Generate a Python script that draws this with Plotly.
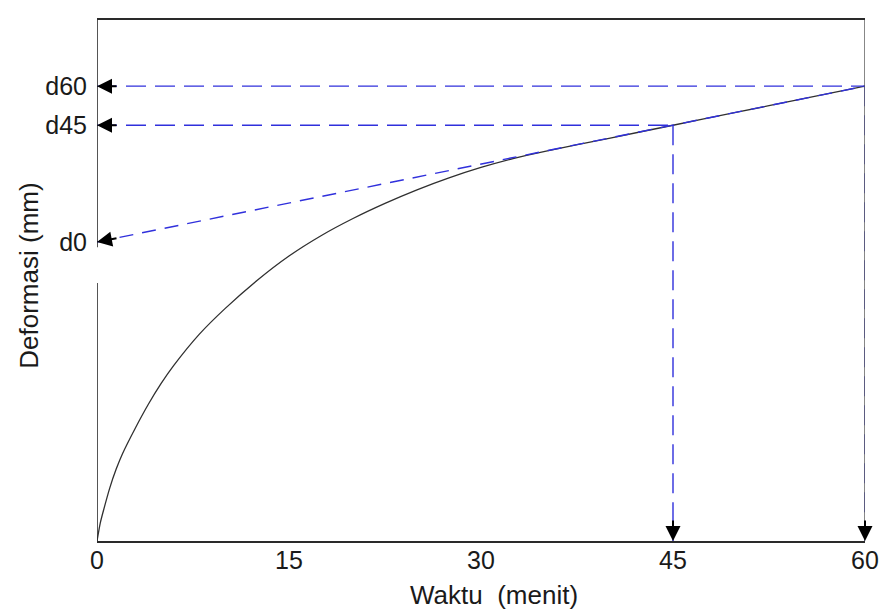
import plotly.graph_objects as go

# ---- data ----
time_min = [0, 0.25, 0.5, 1, 1.5, 2, 3, 4, 5, 6, 8, 10, 12.5, 15, 17.5, 20,
            22.5, 25, 27.5, 30, 32.5, 35, 40, 45, 50, 55, 60]
deformation = [0, 0.34, 0.58, 1.02, 1.38, 1.68, 2.17, 2.62, 3.02, 3.37, 3.97, 4.46,
               5.0, 5.47, 5.86, 6.19, 6.48, 6.74, 6.97, 7.17, 7.34, 7.48, 7.73,
               7.98, 8.23, 8.48, 8.73]

d0_val = 5.74
d45_val = 7.98
d60_val = 8.73
t45 = 45
t60 = 60

x_tick_vals = [0, 15, 30, 45, 60]
x_tick_text = ["0", "15", "30", "45", "60"]
y_tick_vals = [d0_val, d45_val, d60_val]
y_tick_text = ["d0", "d45", "d60"]

x_title = "Waktu&nbsp; (menit)"
y_title = "Deformasi (mm)"

BLUE = "#3030dc"
DARK = "#2a2a2a"
FONT = "Arial, Liberation Sans, sans-serif"
TXT = "#1a1a1a"

fig = go.Figure()

# consolidation curve
fig.add_trace(go.Scatter(x=time_min, y=deformation, mode="lines",
                         line=dict(color="#303030", width=1.3, shape="spline", smoothing=0.5),
                         hoverinfo="skip", showlegend=False))

# blue dashed construction lines
dash_long = "20px,9px"
fig.add_trace(go.Scatter(x=[0, t60], y=[d60_val, d60_val], mode="lines",
                         line=dict(color=BLUE, width=1.4, dash=dash_long), showlegend=False))
fig.add_trace(go.Scatter(x=[0, t45], y=[d45_val, d45_val], mode="lines",
                         line=dict(color=BLUE, width=1.4, dash=dash_long), showlegend=False))
fig.add_trace(go.Scatter(x=[0, t60], y=[d0_val, d60_val], mode="lines",
                         line=dict(color=BLUE, width=1.4, dash="14px,9px"), showlegend=False))
fig.add_trace(go.Scatter(x=[t45, t45], y=[d45_val, 0], mode="lines",
                         line=dict(color=BLUE, width=1.4, dash=dash_long), showlegend=False))
fig.add_trace(go.Scatter(x=[t60, t60], y=[d60_val, 0], mode="lines",
                         line=dict(color=BLUE, width=1.4, dash=dash_long), showlegend=False))

# frame: left axis with small gap below d0, right border
ymax = 10
gap_lo, gap_hi = 4.95, 5.64
shapes = [
    dict(type="line", xref="x", yref="y", x0=0, x1=0, y0=0, y1=gap_lo,
         line=dict(color=DARK, width=1.6)),
    dict(type="line", xref="x", yref="y", x0=0, x1=0, y0=gap_hi, y1=ymax,
         line=dict(color=DARK, width=1.6)),
    dict(type="line", xref="x", yref="y", x0=60, x1=60, y0=0, y1=ymax,
         line=dict(color="#555555", width=1.4)),
]

annotations = []
# arrows to the y axis
for yv, ay in [(d60_val, 0), (d45_val, 0), (d0_val, -4)]:
    annotations.append(dict(x=0, y=yv, xref="x", yref="y", ax=21, ay=ay, text="",
                            showarrow=True, arrowhead=2, arrowsize=1.5, arrowwidth=2,
                            arrowcolor="black"))
# arrows down to the x axis
for xv in [t45, t60]:
    annotations.append(dict(x=xv, y=0, xref="x", yref="y", ax=0, ay=-22, text="",
                            showarrow=True, arrowhead=2, arrowsize=1.5, arrowwidth=2,
                            arrowcolor="black"))
# axis titles
annotations.append(dict(text=x_title, xref="paper", yref="paper", x=0.517, y=-0.104,
                        xanchor="center", yanchor="middle", showarrow=False,
                        font=dict(family=FONT, size=26, color=TXT)))
annotations.append(dict(text=y_title, xref="paper", yref="paper", x=-0.088, y=0.51,
                        xanchor="center", yanchor="middle", showarrow=False, textangle=-90,
                        font=dict(family=FONT, size=26, color=TXT)))

fig.update_layout(
    width=884, height=609,
    margin=dict(l=97, r=19, t=20, b=68),
    paper_bgcolor="white", plot_bgcolor="white",
    shapes=shapes, annotations=annotations,
    showlegend=False,
    font=dict(family=FONT, size=26, color=TXT),
)
fig.update_xaxes(range=[0, 60], tickvals=x_tick_vals, ticktext=x_tick_text,
                 showgrid=False, zeroline=False, showline=True, mirror=True,
                 linecolor=DARK, linewidth=1.6, ticks="", automargin=False,
                 ticklabelstandoff=-4,
                 tickfont=dict(family=FONT, size=25, color=TXT))
fig.update_yaxes(range=[0, ymax], tickvals=y_tick_vals, ticktext=y_tick_text,
                 showgrid=False, zeroline=False, showline=False, automargin=False,
                 ticks="outside", ticklen=4, tickcolor="rgba(0,0,0,0)",
                 tickfont=dict(family=FONT, size=25, color=TXT))

fig.write_html("out.html", config={"displayModeBar": False},
               post_script="document.body.style.margin='0px';document.body.style.overflow='hidden';")
